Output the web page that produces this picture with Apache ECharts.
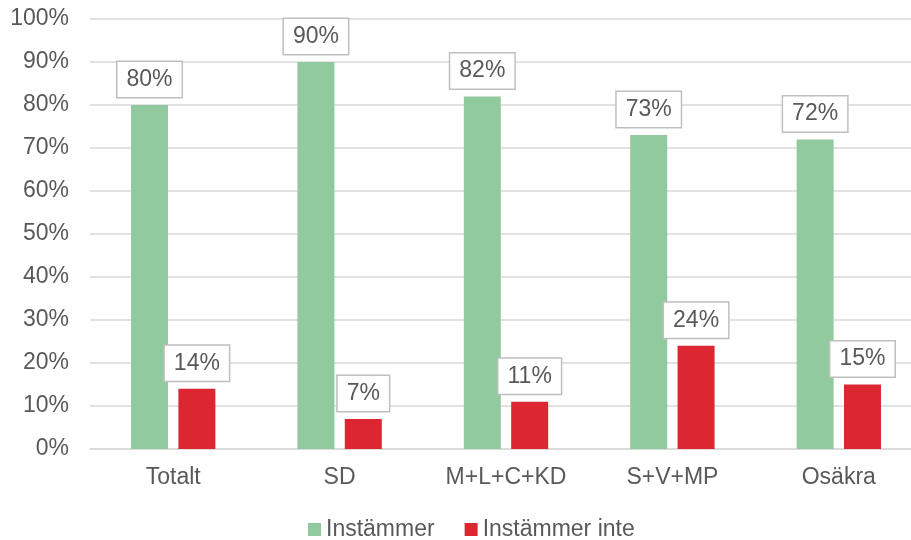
<!DOCTYPE html>
<html>
<head>
<meta charset="utf-8">
<script src="https://cdn.jsdelivr.net/npm/echarts@6/dist/echarts.min.js"></script>
<style>
html,body{margin:0;padding:0;background:#fff;overflow:hidden;width:911px;height:540px;}
#c{width:922px;height:540px;}
</style>
</head>
<body>
<div id="c"></div>
<script>
const categories = ['Totalt', 'SD', 'M+L+C+KD', 'S+V+MP', 'Osäkra'];
const seriesNames = ['Instämmer', 'Instämmer inte'];
const instammer = [80, 90, 82, 73, 72];
const instammerInte = [14, 7, 11, 24, 15];
const yTicks = { min: 0, max: 100, interval: 10 };

const FONT = '"Liberation Sans", Arial, sans-serif';
const TXT = '#595959';
const labelCfg = {
  show: true,
  position: 'top',
  distance: 8,
  formatter: '{c}%',
  fontFamily: FONT,
  fontSize: 23,
  color: TXT,
  backgroundColor: '#ffffff',
  borderColor: '#bfbfbf',
  borderWidth: 1.5,
  padding: [6, 9, 6, 9],
  lineHeight: 23
};

const chart = echarts.init(document.getElementById('c'), null, { renderer: 'canvas' });
chart.setOption({
  animation: false,
  backgroundColor: '#ffffff',
  textStyle: { fontFamily: FONT },
  grid: { left: 90, right: 0, top: 19, bottom: 91, containLabel: false },
  legend: {
    data: seriesNames,
    left: 308,
    top: 518,
    padding: 0,
    itemWidth: 13,
    itemHeight: 13,
    itemGap: 30,
    icon: 'rect',
    textStyle: { fontFamily: FONT, fontSize: 23, color: TXT, padding: [0, 0, 0, 0] }
  },
  xAxis: {
    type: 'category',
    data: categories,
    axisTick: { show: false },
    axisLine: { show: true, lineStyle: { color: '#d9d9d9', width: 1.5 } },
    axisLabel: { fontFamily: FONT, fontSize: 23, color: TXT, margin: 17 }
  },
  yAxis: {
    type: 'value',
    min: yTicks.min,
    max: yTicks.max,
    interval: yTicks.interval,
    axisLine: { show: false },
    axisTick: { show: false },
    splitLine: { lineStyle: { color: '#d9d9d9', width: 1.5 } },
    axisLabel: { formatter: '{value}%', fontFamily: FONT, fontSize: 23, color: TXT, margin: 21 }
  },
  series: [
    {
      name: seriesNames[0],
      type: 'bar',
      data: instammer,
      barWidth: 37,
      barGap: '28%',
      itemStyle: { color: '#92ca9f' },
      label: labelCfg
    },
    {
      name: seriesNames[1],
      type: 'bar',
      data: instammerInte,
      barWidth: 37,
      barGap: '28%',
      itemStyle: { color: '#dc2631' },
      label: labelCfg
    }
  ]
});
</script>
</body>
</html>
